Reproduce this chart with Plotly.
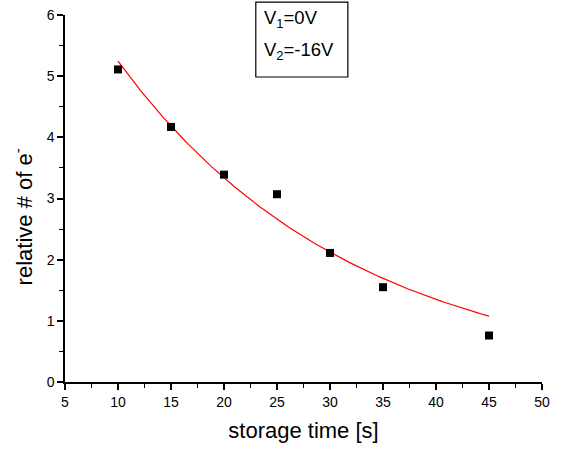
import numpy as np
import plotly.graph_objects as go

# measured electron counts vs. storage time
storage_time = [10, 15, 20, 25, 30, 35, 45]
relative_electrons = [5.11, 4.17, 3.39, 3.07, 2.11, 1.55, 0.76]

# exponential decay fit: N(t) = A * exp(-t / tau)
fit_amplitude = 8.25
fit_tau = 22.1
fit_t = np.linspace(10, 45, 200)
fit_n = fit_amplitude * np.exp(-fit_t / fit_tau)

x_ticks = [5, 10, 15, 20, 25, 30, 35, 40, 45, 50]
y_ticks = [0, 1, 2, 3, 4, 5, 6]

font_family = "Liberation Sans, Arial, sans-serif"

fig = go.Figure()
fig.add_trace(go.Scatter(
    x=fit_t, y=fit_n, mode="lines",
    line=dict(color="#ff0000", width=1.2),
    showlegend=False, hoverinfo="skip",
))
fig.add_trace(go.Scatter(
    x=storage_time, y=relative_electrons, mode="markers",
    marker=dict(symbol="square", size=8, color="black"),
    showlegend=False,
))

axis_common = dict(
    showgrid=False, zeroline=False, showline=True, linecolor="black",
    linewidth=1.5, ticks="outside", ticklen=6, tickwidth=1.5, tickcolor="black",
    tickfont=dict(family=font_family, size=14, color="black"),
    mirror=False, automargin=False,
)

fig.update_xaxes(
    range=[5, 50], tickvals=x_ticks,
    minor=dict(dtick=2.5, ticks="outside", ticklen=4, tickwidth=1.2, tickcolor="black"),
    title=dict(text="storage time [s]", font=dict(family=font_family, size=22, color="black"),
               standoff=14),
    **axis_common,
)
fig.update_yaxes(
    range=[0, 6], tickvals=y_ticks,
    minor=dict(dtick=0.5, ticks="outside", ticklen=4, tickwidth=1.2, tickcolor="black"),
    **axis_common,
)

# y-axis title, set slightly below the middle of the axis
fig.add_annotation(xref="paper", yref="paper", x=-0.089, y=0.45,
                   xanchor="center", yanchor="middle", textangle=-90,
                   text="relative # of e<sup>-</sup>", showarrow=False,
                   font=dict(family=font_family, size=22, color="black"))

# parameter box
fig.add_shape(type="rect", xref="paper", yref="paper",
              x0=0.400, x1=0.593, y0=0.831, y1=1.035,
              line=dict(color="black", width=1.2), fillcolor="white", layer="above")
fig.add_annotation(xref="paper", yref="paper", x=0.412, y=0.99, xanchor="left", yanchor="middle",
                   text="V<sub>1</sub>=0V", showarrow=False,
                   font=dict(family=font_family, size=18.5, color="black"))
fig.add_annotation(xref="paper", yref="paper", x=0.412, y=0.903, xanchor="left", yanchor="middle",
                   text="V<sub>2</sub>=-16V", showarrow=False,
                   font=dict(family=font_family, size=18.5, color="black"))

fig.update_layout(
    width=585, height=450,
    margin=dict(l=65, r=43, t=15, b=68),
    plot_bgcolor="white", paper_bgcolor="white",
)

fig.write_html("out.html")
